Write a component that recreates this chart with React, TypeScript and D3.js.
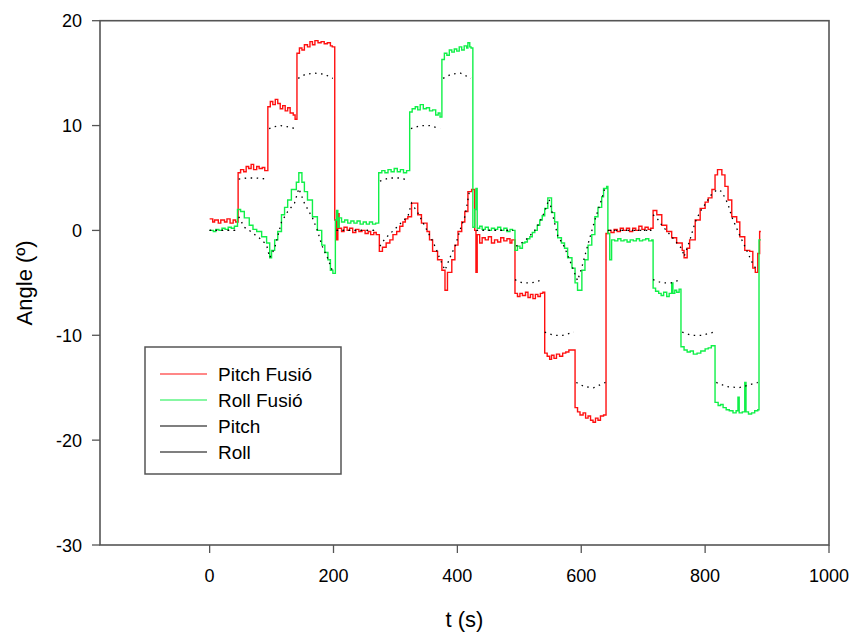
import React from "react";
import * as d3 from "d3";

type Pt = [number, number] | null;

const xTicks = [0, 200, 400, 600, 800, 1000];
const yTicks = [-30, -20, -10, 0, 10, 20];
const legendLabels = ["Pitch Fusió", "Roll Fusió", "Pitch", "Roll"];

const pitchFusio: Pt[] = [
  [0, 1.1], [5, 0.8], [8, 1.0], [14, 0.7], [18, 1.0], [24, 0.8], [28, 1.1], [33, 0.7], [38, 1.0], [42, 0.8],
  [46, 5.5], [50, 5.8], [55, 5.6], [59, 6.1], [63, 5.9], [67, 6.3], [71, 5.8], [76, 6.1], [80, 5.9], [85, 6.0], [89, 5.7],
  [94, 11.8], [98, 12.3], [102, 12.0], [106, 12.5], [110, 12.1], [114, 11.6], [118, 11.9], [122, 11.4], [126, 11.7], [130, 11.2], [135, 11.0], [138, 10.6],
  [141, 16.9], [145, 17.4], [149, 17.2], [153, 17.7], [158, 17.5], [162, 18.0], [166, 17.7], [170, 18.1], [175, 17.9], [180, 18.0], [185, 17.8], [190, 17.9], [195, 17.6], [198, 17.5],
  [202, 1.0], [205, -0.9], [207, 1.6], [209, 0.2], [213, -0.1], [217, 0.3], [222, 0.0], [226, 0.2], [231, -0.2], [236, 0.1], [241, -0.1], [246, 0.0], [251, -0.3], [256, -0.1], [260, -0.4], [265, -0.2], [269, -0.4],
  [274, -2.0], [279, -1.6], [285, -1.2], [291, -0.9], [296, -0.4], [302, -0.1], [307, 0.4], [312, 0.8], [316, 1.1], [320, 1.3], [326, 2.6], [336, 1.5],
  [342, 0.7], [351, -0.1], [355, -0.9], [360, -2.0], [368, -2.8], [375, -3.8], [380, -5.7], [384, -4.0],
  [391, -2.8], [396, -1.4], [401, -0.1], [407, 0.8], [412, 1.8], [417, 3.7], [423, 3.9],
  [428, 0.0], [430, -4.0], [432, -0.4], [436, -1.2], [440, -0.7], [445, -0.9], [450, -0.6], [455, -1.2], [460, -0.9], [465, -1.1], [470, -0.7], [475, -1.0], [480, -0.8], [485, -1.2], [488, -0.9],
  [493, -6.0], [497, -6.3], [501, -6.0], [505, -6.2], [510, -5.9], [514, -6.4], [518, -6.1], [522, -6.5], [526, -6.1], [530, -6.3], [534, -6.0], [538, -5.9],
  [541, -11.7], [545, -12.0], [549, -12.3], [552, -11.9], [556, -12.2], [560, -11.8], [565, -12.0], [570, -11.7], [575, -11.6], [580, -11.4], [585, -11.4],
  [590, -16.9], [594, -17.3], [598, -17.6], [603, -17.4], [607, -17.9], [611, -17.7], [615, -18.1], [619, -18.3], [623, -17.9], [627, -18.1], [631, -17.7], [636, -17.6],
  [640, -0.3], [643, 0.0], [648, -0.2], [653, 0.1], [658, -0.1], [663, 0.2], [668, 0.0], [673, 0.2], [678, -0.1], [683, 0.2], [688, 0.0], [693, 0.4], [698, 0.1], [703, 0.3], [708, 0.1], [712, 0.2],
  [716, 1.9], [722, 1.5], [730, 0.5], [738, -0.1], [746, -0.7], [754, -1.2], [763, -1.9], [766, -2.6],
  [771, -1.7], [775, -0.9], [784, 1.0], [792, 2.1], [800, 2.7], [805, 3.1], [811, 3.9], [816, 5.3],
  [820, 5.8], [827, 5.3], [832, 4.2], [837, 2.9], [843, 1.3], [851, 0.8], [856, -0.6], [864, -1.9],
  [872, -2.0], [877, -3.6], [881, -4.0], [885, -2.2], [888, -0.1], [890, -0.1],
];

const rollFusio: Pt[] = [
  [0, 0.0], [6, -0.1], [10, 0.1], [15, 0.0], [20, 0.2], [25, 0.1], [30, 0.3], [35, 0.2], [40, 0.4],
  [45, 2.0], [50, 1.8], [56, 1.2], [64, 0.5], [70, 0.1], [76, -0.1], [84, -0.6], [92, -1.2], [97, -2.6],
  [100, -1.9], [105, -0.9], [110, -0.1], [116, 1.5], [121, 2.2], [126, 2.9], [132, 3.9], [140, 4.6],
  [144, 5.5], [149, 4.6], [153, 3.7], [158, 2.9], [166, 1.3], [174, 0.0], [181, -1.4], [186, -2.1],
  [191, -2.8], [195, -3.8], [199, -4.1],
  [203, 1.0], [205, 1.9], [207, 0.3], [209, 1.2], [213, 0.8], [218, 1.0], [223, 0.7], [228, 0.9], [233, 0.7], [238, 0.9], [243, 0.6], [248, 0.8], [253, 0.6], [258, 0.8], [263, 0.6], [268, 0.7],
  [273, 5.5], [278, 5.7], [283, 5.5], [288, 5.8], [293, 5.6], [298, 5.9], [303, 5.6], [308, 5.8], [313, 5.5], [318, 5.7],
  [323, 11.3], [327, 11.6], [332, 11.8], [336, 11.5], [340, 12.0], [345, 11.6], [350, 11.7], [355, 11.4], [360, 11.5], [365, 11.0], [369, 11.2], [372, 10.8],
  [375, 16.3], [379, 16.9], [383, 16.7], [387, 17.2], [391, 17.0], [395, 17.3], [399, 17.1], [403, 17.5], [407, 17.2], [411, 17.6], [415, 17.4], [417, 17.9], [420, 17.5], [422, 17.4],
  [425, 0.3], [428, 2.0], [430, 4.0], [432, 0.2], [436, 0.4], [440, 0.1], [445, 0.3], [450, 0.0], [455, 0.2], [460, 0.1], [465, 0.3], [470, 0.0], [475, 0.2], [480, -0.1], [485, 0.1], [489, 0.0],
  [493, -1.9], [497, -1.5], [501, -1.7], [505, -1.2], [509, -1.1], [513, -0.8], [517, -0.6], [521, -0.2], [525, 0.0], [529, 0.5], [533, 1.0], [537, 1.4], [541, 2.1], [546, 3.1],
  [552, 1.7], [557, 0.8], [562, -0.7], [568, -1.2], [573, -1.7], [578, -2.6], [585, -3.6], [590, -5.0], [594, -5.7],
  [601, -3.8], [606, -2.8], [611, -1.4], [617, -0.4], [622, 1.3], [627, 2.2], [633, 3.2], [636, 4.0], [641, 4.2],
  [643, -0.3], [646, -2.8], [649, -0.9], [654, -1.0], [659, -0.8], [664, -1.0], [669, -0.9], [674, -1.1], [679, -0.9], [684, -1.0], [689, -0.8], [694, -1.0], [699, -0.9], [704, -0.8], [709, -1.0], [714, -0.9],
  [716, -5.5], [720, -5.8], [725, -6.0], [729, -6.2], [733, -5.9], [738, -6.3], [742, -6.0], [746, -5.0], [748, -6.0], [751, -5.7], [754, -5.9], [758, -5.6],
  [761, -11.1], [766, -11.4], [771, -11.6], [776, -11.5], [781, -11.8], [787, -11.7], [793, -11.5], [800, -11.3], [805, -11.2], [810, -11.0],
  [816, -16.4], [821, -16.7], [825, -16.6], [829, -16.9], [834, -17.1], [839, -17.2], [845, -17.4], [850, -17.2], [853, -15.9], [855, -17.4], [860, -17.3], [864, -14.5], [866, -17.3],
  [870, -17.5], [875, -17.4], [880, -17.2], [885, -17.1], [887, -0.9], [890, -0.9],
];

const pitchRef: Pt[] = [
  [0, 0], [45, 0], null,
  [47, 4.9], [60, 5.0], [75, 5.0], [93, 4.9], null,
  [96, 9.7], [105, 9.9], [115, 10.0], [125, 9.9], [139, 9.7], null,
  [143, 14.5], [155, 14.9], [170, 15.0], [185, 14.9], [199, 14.5], null,
  [205, 0], [272, 0], null,
  [275, -1.5], [283, -0.8], [302, 0.3], [312, 0.9], [320, 1.3], [326, 2.6], [336, 1.7], [351, 0],
  [359, -0.9], [366, -1.8], [371, -2.6], [380, -3.8], [388, -2.6], [397, -1.4], [404, 0],
  [412, 1.3], [420, 3.9], null,
  [431, 0], [490, 0], null,
  [493, -4.7], [505, -5.0], [520, -5.0], [538, -4.7], null,
  [541, -9.7], [555, -10.0], [570, -10.0], [588, -9.7], null,
  [592, -14.5], [605, -14.9], [620, -15.0], [639, -14.5], null,
  [643, 0], [714, 0], null,
  [716, 1.5], [722, 1.2], [730, 0.5], [746, -0.6], [763, -1.8], [766, -2.5], [775, -1.0], [784, 0.8],
  [792, 1.8], [800, 2.5], [811, 3.5], [820, 3.9], [827, 3.7], [837, 2.5], [843, 1.3], [856, -0.5],
  [864, -1.5], [877, -3.2], [884, -3.8],
];

const rollRef: Pt[] = [
  [0, 0], [45, 0], null,
  [47, 1.3], [56, 0.3], [64, 0], [84, -0.9], [92, -1.4], [97, -2.6], [105, -1.7], [116, 0.8],
  [126, 1.8], [137, 2.6], [144, 4.0], [153, 2.6], [166, 1.2], [174, 0], [181, -1.4], [191, -2.7], [199, -4.0], null,
  [205, 0], [272, 0], null,
  [275, 4.7], [290, 5.0], [305, 5.0], [322, 4.8], null,
  [325, 9.7], [340, 10.0], [355, 10.0], [372, 9.7], null,
  [377, 14.5], [390, 14.9], [405, 15.0], [422, 14.5], null,
  [431, 0], [490, 0], null,
  [495, -1.5], [509, -1.0], [525, 0], [533, 0.8], [541, 1.8], [548, 3.0], [555, 1.2], [562, -0.5],
  [573, -1.6], [585, -3.4], [594, -4.8], [601, -3.5], [611, -1.3], [622, 1.0], [633, 3.0], [638, 4.0], null,
  [646, 0], [714, 0], null,
  [716, -4.7], [730, -5.0], [745, -5.0], [760, -4.7], null,
  [763, -9.7], [778, -10.0], [795, -10.0], [814, -9.7], null,
  [818, -14.5], [835, -14.9], [855, -15.0], [885, -14.5],
];

const RED = "#ff1010";
const GREEN = "#10f048";
const FONT = "'Liberation Sans', Arial, sans-serif";

export default function App() {
  const W = 855, H = 635;
  const x = d3.scaleLinear().domain([-177, 1000]).range([100, 829]);
  const y = d3.scaleLinear().domain([-30, 20]).range([545, 20.7]);

  const stepLine = d3
    .line<Pt>()
    .defined((d) => d !== null)
    .x((d) => x((d as [number, number])[0]))
    .y((d) => y((d as [number, number])[1]))
    .curve(d3.curveStepAfter);

  const refLine = d3
    .line<Pt>()
    .defined((d) => d !== null)
    .x((d) => x((d as [number, number])[0]))
    .y((d) => y((d as [number, number])[1]));

  const [x0, x1] = x.range();
  const [yb, yt] = y.range();
  const axisColor = "#555";

  const legendRows = [374, 400, 426, 452];
  const legendColors = [RED, GREEN, "#000", "#000"];

  return (
    <svg width={W} height={H} style={{ position: "absolute", left: 0, top: 0, background: "#fff" }} fontFamily={FONT}>
      <rect x={0} y={0} width={W} height={H} fill="#fff" />
      <path d={stepLine(pitchFusio) || ""} fill="none" stroke={RED} strokeWidth={1.4} />
      <path d={stepLine(rollFusio) || ""} fill="none" stroke={GREEN} strokeWidth={1.4} />
      <path d={refLine(pitchRef) || ""} fill="none" stroke="#000" strokeWidth={1.3} strokeDasharray="1.5 4.5" />
      <path d={refLine(rollRef) || ""} fill="none" stroke="#000" strokeWidth={1.3} strokeDasharray="1.5 4.5" />

      <rect x={x0} y={yt} width={x1 - x0} height={yb - yt} fill="none" stroke={axisColor} strokeWidth={1.6} />

      {xTicks.map((t) => (
        <g key={"x" + t}>
          <line x1={x(t)} x2={x(t)} y1={yb} y2={yb + 8} stroke={axisColor} strokeWidth={1.3} />
          <text x={x(t)} y={yb + 37} textAnchor="middle" fontSize={18} fill="#000">
            {t}
          </text>
        </g>
      ))}
      {yTicks.map((t) => (
        <g key={"y" + t}>
          <line x1={x0 - 8} x2={x0} y1={y(t)} y2={y(t)} stroke={axisColor} strokeWidth={1.3} />
          <text x={82} y={y(t) + 6.5} textAnchor="end" fontSize={18} fill="#000">
            {t}
          </text>
        </g>
      ))}

      <text x={(x0 + x1) / 2} y={627} textAnchor="middle" fontSize={22} fill="#000">
        t (s)
      </text>
      <text
        transform={`translate(32, ${(yb + yt) / 2}) rotate(-90)`}
        textAnchor="middle"
        fontSize={22}
        fill="#000"
      >
        Angle (º)
      </text>

      <rect x={145} y={347} width={196} height={127} fill="#fff" stroke={axisColor} strokeWidth={1.5} />
      {legendLabels.map((lab, i) => (
        <g key={lab}>
          <line x1={160} x2={207} y1={legendRows[i]} y2={legendRows[i]} stroke={legendColors[i]} strokeWidth={1.2} />
          <text x={218} y={legendRows[i] + 7} fontSize={19} fill="#000">
            {lab}
          </text>
        </g>
      ))}
    </svg>
  );
}
